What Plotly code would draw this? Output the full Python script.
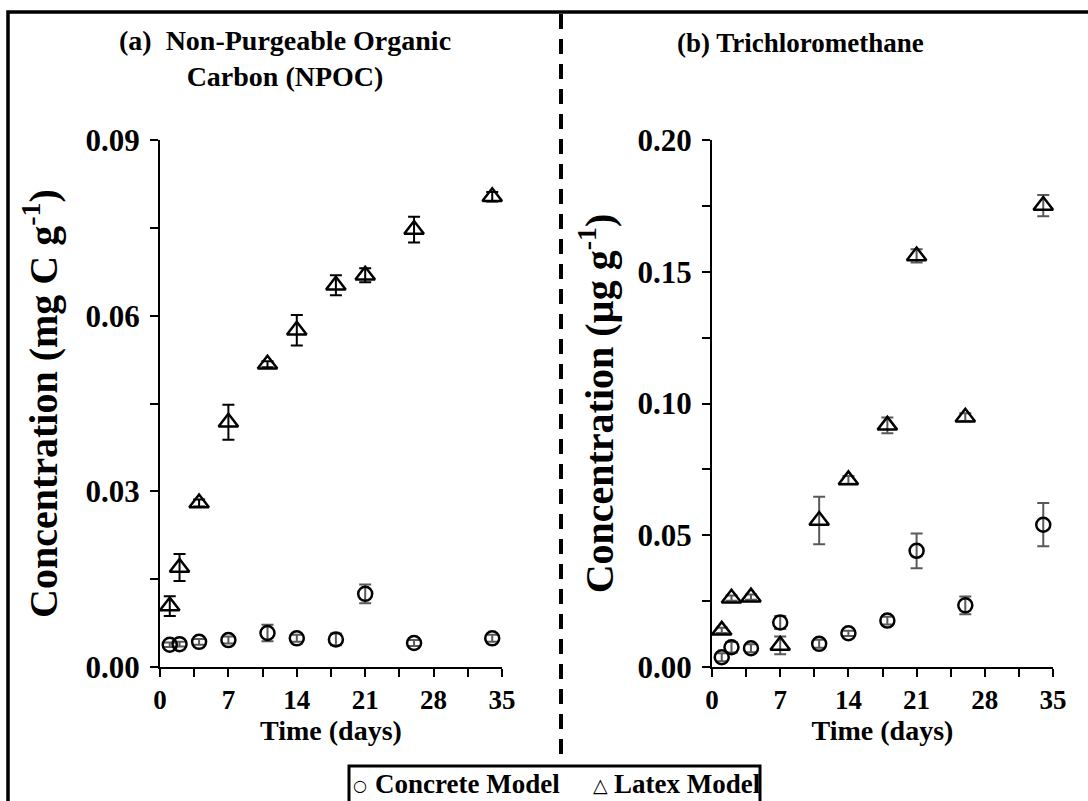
import plotly.graph_objects as go

# ---------------- data ----------------
days_npoc = [1, 2, 4, 7, 11, 14, 18, 21, 26, 34]
npoc_concrete = [0.0038, 0.0039, 0.0043, 0.0046, 0.0058, 0.0049, 0.0047, 0.0125, 0.0041, 0.0049]
npoc_concrete_err = [0.0004, 0.0004, 0.0005, 0.0006, 0.0014, 0.0006, 0.0010, 0.0016, 0.0005, 0.0006]
npoc_latex = [0.0104, 0.0170, 0.0280, 0.0418, 0.0517, 0.0575, 0.0652, 0.0669, 0.0747, 0.0803]
npoc_latex_err = [0.0017, 0.0023, 0.0006, 0.0030, 0.0005, 0.0026, 0.0017, 0.0012, 0.0022, 0.0008]

days_tcm = [1, 2, 4, 7, 11, 14, 18, 21, 26, 34]
tcm_concrete = [0.0037, 0.0075, 0.0071, 0.0169, 0.0088, 0.0128, 0.0176, 0.0441, 0.0234, 0.0540]
tcm_concrete_err = [0.0015, 0.0020, 0.0015, 0.0025, 0.0015, 0.0010, 0.0015, 0.0066, 0.0034, 0.0082]
tcm_latex = [0.0139, 0.0261, 0.0265, 0.0082, 0.0556, 0.0710, 0.0917, 0.1560, 0.0948, 0.1751]
tcm_latex_err = [0.0010, 0.0010, 0.0010, 0.0034, 0.0090, 0.0015, 0.0030, 0.0025, 0.0015, 0.0040]

x_ticks = [0, 7, 14, 21, 28, 35]
npoc_yticks = [0.00, 0.03, 0.06, 0.09]
tcm_yticks = [0.00, 0.05, 0.10, 0.15, 0.20]

series_names = ["Concrete Model", "Latex Model"]
series_glyphs = ["\u25cb", "\u25b3"]

# ---------------- style ----------------
W, H = 1088, 801
FONT = "Liberation Serif"
GRAY = "#595959"


def px_x(p):
    return p / W


def px_y(p):
    return (H - p) / H


fig = go.Figure()


def add_series(x, y, err, name, symbol, size, errcolor, xa, ya):
    fig.add_trace(go.Scatter(
        x=x, y=y, mode="markers", xaxis=xa, yaxis=ya, name=name, showlegend=False,
        marker=dict(symbol=symbol, size=size, color="black",
                    line=dict(color="black", width=2.5)),
        error_y=dict(type="data", array=err, visible=True, color=errcolor,
                     thickness=2, width=6),
        cliponaxis=False,
    ))


add_series(days_npoc, npoc_concrete, npoc_concrete_err, series_names[0], "circle-open", 14, GRAY, "x", "y")
add_series(days_npoc, npoc_latex, npoc_latex_err, series_names[1], "triangle-up-open", 17, "black", "x", "y")
add_series(days_tcm, tcm_concrete, tcm_concrete_err, series_names[0], "circle-open", 14, GRAY, "x2", "y2")
add_series(days_tcm, tcm_latex, tcm_latex_err, series_names[1], "triangle-up-open", 17, GRAY, "x2", "y2")

xtickfont = dict(family=FONT, size=27, color="black", weight="bold")
ytickfont = dict(family=FONT, size=31, color="black", weight="bold")
xtitlefont = dict(family=FONT, size=28, color="black", weight="bold")
ytitlefont = dict(family=FONT, size=40, color="black", weight="bold")

xcommon = dict(
    range=[0, 35], tickvals=x_ticks, ticktext=[str(v) for v in x_ticks],
    showline=True, linecolor="black", linewidth=2, mirror=False,
    ticks="outside", ticklen=8, tickwidth=2, tickcolor="black",
    minor=dict(dtick=3.5, tick0=0, ticks="outside", ticklen=8, tickwidth=2, tickcolor="black"),
    showgrid=False, zeroline=False, tickfont=xtickfont,
    title=dict(text="Time (days)", font=xtitlefont, standoff=2),
    ticklabelstandoff=0,
)

ycommon = dict(
    showline=True, linecolor="black", linewidth=2,
    ticks="outside", ticklen=8, tickwidth=2, tickcolor="black",
    showgrid=False, zeroline=False, tickfont=ytickfont, tickformat=".2f",
    ticklabelstandoff=4,
)

fig.update_layout(
    width=W, height=H,
    margin=dict(l=0, r=0, t=0, b=0, autoexpand=False),
    paper_bgcolor="white", plot_bgcolor="white",
    font=dict(family=FONT, color="black"),
    showlegend=False,
    xaxis=dict(domain=[px_x(160), px_x(502)], anchor="y", **xcommon),
    xaxis2=dict(domain=[px_x(712), px_x(1053)], anchor="y2", **xcommon),
    yaxis=dict(
        domain=[px_y(667), px_y(140)], anchor="x", range=[0, 0.09],
        tickvals=npoc_yticks,
        minor=dict(dtick=0.015, tick0=0, ticks="outside", ticklen=8, tickwidth=2, tickcolor="black"),
        title=dict(text="Concentration (mg C g<sup>-1</sup>)", font=ytitlefont, standoff=16),
        **ycommon,
    ),
    yaxis2=dict(
        domain=[px_y(667), px_y(140)], anchor="x2", range=[0, 0.20],
        tickvals=tcm_yticks,
        minor=dict(dtick=0.025, tick0=0, ticks="outside", ticklen=8, tickwidth=2, tickcolor="black"),
        title=dict(text="Concentration (µg g<sup>-1</sup>)", font=ytitlefont, standoff=12),
        **ycommon,
    ),
)

titlefont = dict(family=FONT, size=28, color="black", weight="bold")
# panel titles
fig.add_annotation(text="(a)\u00a0\u00a0Non-Purgeable Organic<br>Carbon (NPOC)",
                   xref="paper", yref="paper", x=px_x(285), y=px_y(59),
                   xanchor="center", yanchor="middle", showarrow=False, align="center",
                   font=titlefont)
fig.add_annotation(text="(b) Trichloromethane",
                   xref="paper", yref="paper", x=px_x(800), y=px_y(43),
                   xanchor="center", yanchor="middle", showarrow=False,
                   font=dict(family=FONT, size=27, color="black", weight="bold"))

# outer frame and dashed divider
fig.add_shape(type="rect", xref="paper", yref="paper",
              x0=px_x(8), x1=px_x(1095), y0=px_y(810), y1=px_y(12),
              line=dict(color="black", width=3.5), fillcolor="rgba(0,0,0,0)", layer="below")
fig.add_shape(type="line", xref="paper", yref="paper",
              x0=px_x(561), x1=px_x(561), y0=px_y(14), y1=px_y(758),
              line=dict(color="black", width=4, dash="15px,10px"))

# legend box (bottom edge runs past the picture, as in the original)
fig.add_shape(type="rect", xref="paper", yref="paper",
              x0=px_x(349), x1=px_x(760), y0=px_y(812), y1=px_y(766),
              line=dict(color="black", width=3), fillcolor="white")
legfont = dict(family=FONT, size=27, color="black", weight="bold")
for glyph, name, gx, tx, gs in zip(series_glyphs, series_names, [360, 600], [373, 612], [16, 19]):
    fig.add_annotation(text=glyph, xref="paper", yref="paper", x=px_x(gx), y=px_y(785),
                       xanchor="center", yanchor="middle", showarrow=False,
                       font=dict(family="DejaVu Sans", size=gs, color="black"))
    fig.add_annotation(text=name, xref="paper", yref="paper", x=px_x(tx), y=px_y(784),
                       xanchor="left", yanchor="middle", showarrow=False, font=legfont)

fig.write_html("out.html")
